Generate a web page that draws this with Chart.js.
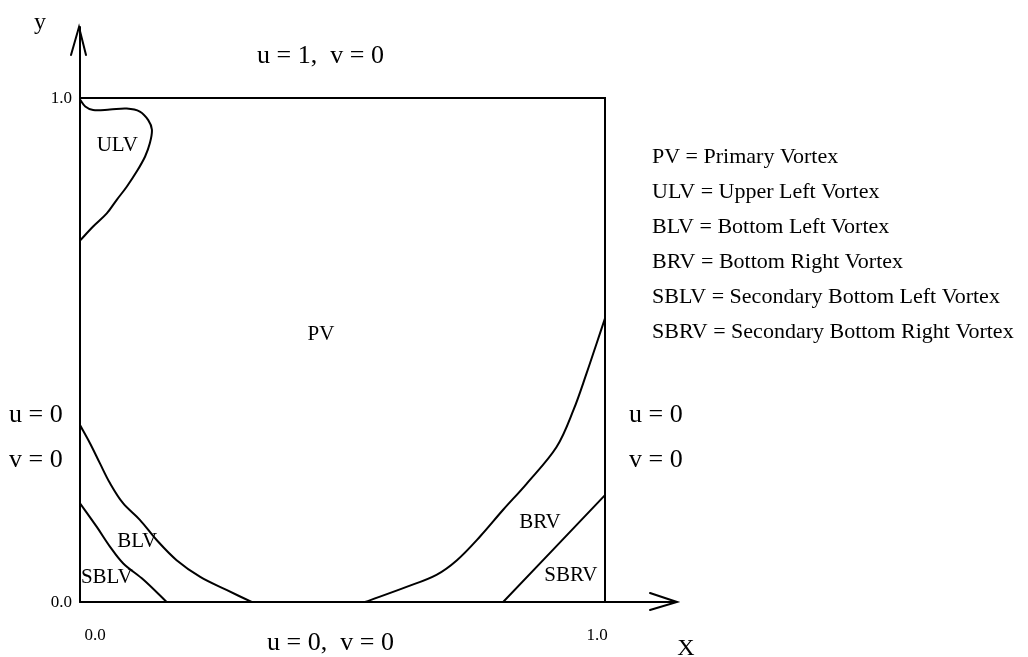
<!DOCTYPE html>
<html>
<head>
<meta charset="utf-8">
<script src="https://cdn.jsdelivr.net/npm/chart.js@4/dist/chart.umd.min.js"></script>
<style>
html, body { margin: 0; padding: 0; background: #fff; }
#wrap { width: 1028px; height: 657px; position: relative; }
</style>
</head>
<body>
<div id="wrap"><canvas id="cavidad"></canvas></div>
<script>
/* curvas de separacion (coordenadas de la cavidad 0..1) */
var ulvX = [0, 0.01, 0.025, 0.057, 0.089, 0.114, 0.130, 0.137, 0.133, 0.124, 0.108, 0.089, 0.070, 0.051, 0.025, 0];
var ulvY = [0.997, 0.983, 0.976, 0.977, 0.979, 0.973, 0.956, 0.937, 0.910, 0.884, 0.854, 0.824, 0.798, 0.771, 0.745, 0.717];

var blvX = [0, 0.019, 0.038, 0.057, 0.082, 0.114, 0.146, 0.184, 0.229, 0.279, 0.327];
var blvY = [0.351, 0.315, 0.275, 0.236, 0.196, 0.163, 0.123, 0.083, 0.050, 0.024, 0];

var sblvX = [0, 0.032, 0.057, 0.082, 0.121, 0.165];
var sblvY = [0.196, 0.149, 0.110, 0.077, 0.044, 0];

var brvX = [0.543, 0.622, 0.679, 0.718, 0.762, 0.806, 0.851, 0.908, 0.940, 0.965, 0.984, 1.0];
var brvY = [0, 0.030, 0.054, 0.083, 0.130, 0.183, 0.235, 0.308, 0.381, 0.454, 0.513, 0.563];

var sbrvX = [0.806, 1.0];
var sbrvY = [0, 0.212];

var tickVals = [0, 1];
var tickLabels = ["0.0", "1.0"];

/* etiquetas de las regiones */
var regionNames = ["ULV", "PV", "BLV", "SBLV", "BRV", "SBRV"];
var regionX = [0.071, 0.459, 0.109, 0.051, 0.876, 0.935];
var regionY = [0.905, 0.530, 0.121, 0.049, 0.157, 0.052];

var legendItems = [
  "PV = Primary Vortex",
  "ULV = Upper Left Vortex",
  "BLV = Bottom Left Vortex",
  "BRV = Bottom Right Vortex",
  "SBLV = Secondary Bottom Left Vortex",
  "SBRV = Secondary Bottom Right Vortex"
];

var topBC = "u = 1,  v = 0";
var bottomBC = "u = 0,  v = 0";
var sideBC = ["u = 0", "v = 0"];

function puntos(xs, ys) {
  var pts = [];
  for (var i = 0; i < xs.length; i++) {
    pts.push({x: xs[i], y: ys[i]});
  }
  return pts;
}

function curva(xs, ys) {
  return {
    data: puntos(xs, ys),
    showLine: true,
    borderColor: '#000',
    borderWidth: 2,
    pointRadius: 0,
    tension: 0.35,
    fill: false
  };
}

var serif = '"Liberation Serif", "DejaVu Serif", serif';

var marco = {
  id: 'marco',
  afterDatasetsDraw: function(chart) {
    var ctx = chart.ctx;
    var sx = chart.scales.x, sy = chart.scales.y;
    var x0 = sx.getPixelForValue(0), x1 = sx.getPixelForValue(1);
    var y0 = sy.getPixelForValue(0), y1 = sy.getPixelForValue(1);
    ctx.save();
    ctx.strokeStyle = '#000';
    ctx.lineWidth = 2;
    ctx.lineCap = 'round';
    // caja
    ctx.beginPath();
    ctx.moveTo(x0, y1); ctx.lineTo(x1, y1); ctx.lineTo(x1, y0);
    ctx.stroke();
    // eje y con flecha
    ctx.beginPath();
    ctx.moveTo(x0, y0); ctx.lineTo(x0, y1 - 71);
    ctx.moveTo(x0 - 9, y1 - 43); ctx.lineTo(x0 - 1, y1 - 71); ctx.lineTo(x0 + 6, y1 - 43);
    ctx.stroke();
    // eje x con flecha
    ctx.beginPath();
    ctx.moveTo(x0, y0); ctx.lineTo(x1 + 72, y0);
    ctx.moveTo(x1 + 45, y0 - 9); ctx.lineTo(x1 + 72, y0); ctx.lineTo(x1 + 45, y0 + 8);
    ctx.stroke();

    ctx.fillStyle = '#000';
    // ticks
    ctx.font = '17px ' + serif;
    ctx.textAlign = 'right';
    ctx.textBaseline = 'alphabetic';
    for (var i = 0; i < tickVals.length; i++) {
      ctx.fillText(tickLabels[i], x0 - 8, sy.getPixelForValue(tickVals[i]) + 5);
    }
    ctx.textAlign = 'center';
    ctx.fillText(tickLabels[0], sx.getPixelForValue(tickVals[0]) + 15, y0 + 38);
    ctx.fillText(tickLabels[1], sx.getPixelForValue(tickVals[1]) - 8, y0 + 38);

    // nombres de ejes
    ctx.font = '24px ' + serif;
    ctx.fillText('y', x0 - 40, y1 - 69);
    ctx.fillText('X', x1 + 81, y0 + 53);

    // condiciones de frontera
    ctx.font = '26px ' + serif;
    ctx.fillText(topBC, (x0 + x1) / 2 - 22, y1 - 35);
    ctx.fillText(bottomBC, (x0 + x1) / 2 - 12, y0 + 48);
    ctx.textAlign = 'left';
    ctx.fillText(sideBC[0], 9, 422);
    ctx.fillText(sideBC[1], 9, 467);
    ctx.fillText(sideBC[0], x1 + 24, 422);
    ctx.fillText(sideBC[1], x1 + 24, 467);

    // regiones
    ctx.font = '21px ' + serif;
    ctx.textAlign = 'center';
    ctx.textBaseline = 'middle';
    for (var j = 0; j < regionNames.length; j++) {
      ctx.fillText(regionNames[j], sx.getPixelForValue(regionX[j]), sy.getPixelForValue(regionY[j]));
    }

    // leyenda
    ctx.font = '22px ' + serif;
    ctx.textAlign = 'left';
    ctx.textBaseline = 'alphabetic';
    for (var k = 0; k < legendItems.length; k++) {
      ctx.fillText(legendItems[k], x1 + 47, 163 + 35 * k);
    }
    ctx.restore();
  }
};

var chart = new Chart(document.getElementById('cavidad'), {
  type: 'scatter',
  data: {
    datasets: [
      curva(ulvX, ulvY),
      curva(blvX, blvY),
      curva(sblvX, sblvY),
      curva(brvX, brvY),
      curva(sbrvX, sbrvY)
    ]
  },
  options: {
    responsive: true,
    maintainAspectRatio: false,
    animation: false,
    layout: { padding: { left: 80, top: 98, right: 423, bottom: 55 } },
    scales: {
      x: { type: 'linear', min: 0, max: 1, display: false },
      y: { type: 'linear', min: 0, max: 1, display: false }
    },
    plugins: {
      legend: { display: false },
      tooltip: { enabled: false }
    }
  },
  plugins: [marco]
});
</script>
</body>
</html>
